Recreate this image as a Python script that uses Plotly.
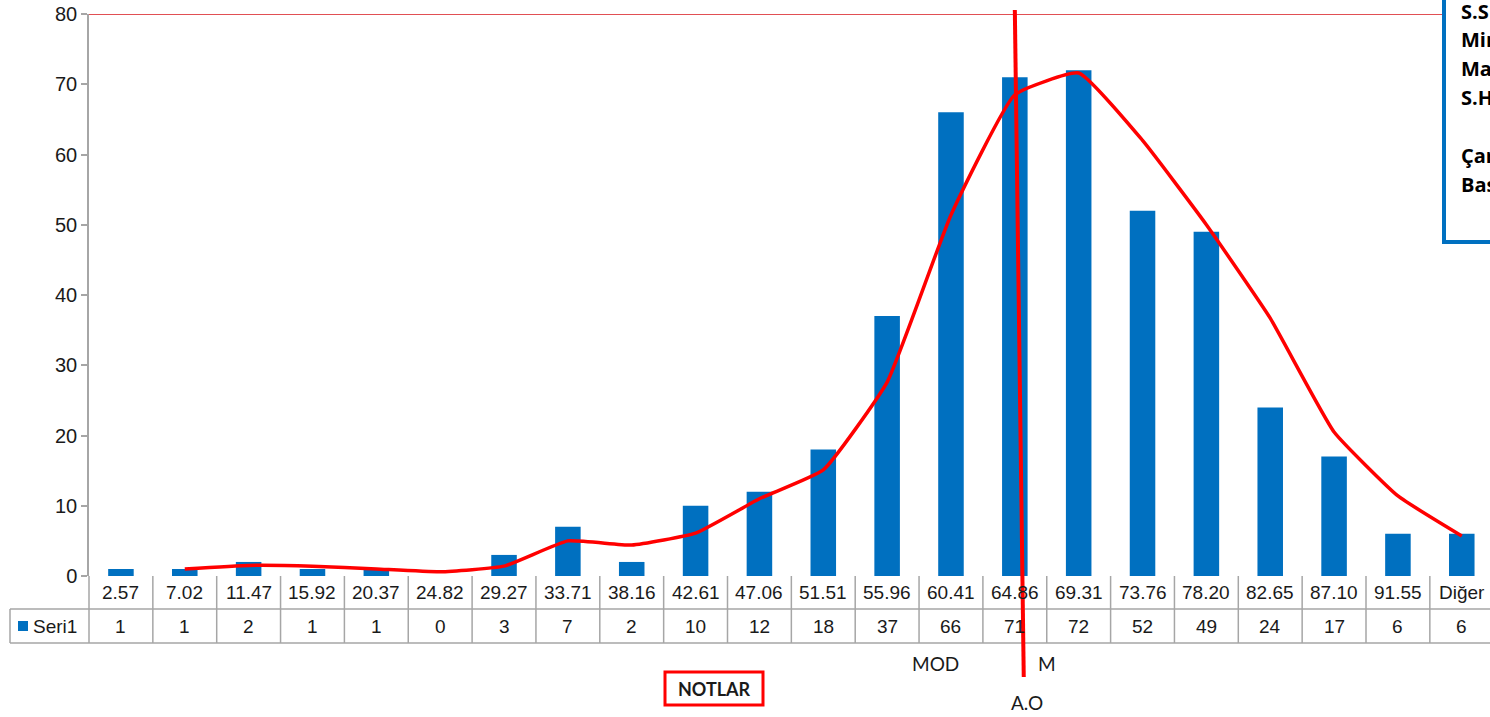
import plotly.graph_objects as go

# ---------------- data ----------------
categories = ["2.57", "7.02", "11.47", "15.92", "20.37", "24.82", "29.27", "33.71",
              "38.16", "42.61", "47.06", "51.51", "55.96", "60.41", "64.86", "69.31",
              "73.76", "78.20", "82.65", "87.10", "91.55", "Diğer"]
counts = [1, 1, 2, 1, 1, 0, 3, 7, 2, 10, 12, 18, 37, 66, 71, 72, 52, 49, 24, 17, 6, 6]
# smooth (normal-like) curve, starts at second category
curve_values = [None, 1.0, 1.5, 1.4, 1.0, 0.6, 1.4, 5.0, 4.4, 6.1, 11.0, 15.1, 27.6,
                51.4, 68.5, 71.6, 62.0, 50.0, 36.7, 20.5, 11.4, 5.7]
series_name = "Seri1"
y_ticks = [0, 10, 20, 30, 40, 50, 60, 70, 80]
limit_value = 80
mean_category = 14  # position of the "A.O" line (64.86 bin)
stats_labels = ["S.S", "Min", "Max", "S.H", "", "Çarpıklık", "Basıklık"]

# ---------------- layout geometry ----------------
W, H = 1490, 717
L, T = 89, 14
PLOT_W = W - L
PLOT_H = 576 - T
B = H - 576
CAT_W = 63.85
x_range = [-0.5, -0.5 + PLOT_W / CAT_W]

def px(x):
    return (x - L) / PLOT_W

def py(y):
    return (576 - y) / PLOT_H

idx = list(range(len(categories)))
BLUE = "#0070C0"
GRID = "#A6A6A6"
TXT = "#1a1a1a"
TFONT = "Liberation Sans, Arial"

fig = go.Figure()
fig.add_trace(go.Bar(x=idx, y=counts, marker=dict(color=BLUE, line=dict(width=0)),
                     width=0.4, name=series_name, showlegend=False))
fig.add_trace(go.Scatter(x=idx, y=curve_values, mode="lines",
                         line=dict(color="#FF0000", width=3.5, shape="spline", smoothing=0.4),
                         showlegend=False, connectgaps=False))

shapes = []
annotations = []

# horizontal limit line at 80
shapes.append(dict(type="line", xref="paper", yref="y", x0=0, x1=1, y0=limit_value, y1=limit_value,
                   line=dict(color="rgba(222,60,65,0.9)", width=2.2), layer="above"))

# ---- data table ----
row1_y = py(609)
row2_y = py(643)
shapes.append(dict(type="line", xref="paper", yref="paper", x0=0, x1=1.01, y0=row1_y, y1=row1_y,
                   line=dict(color=GRID, width=1.5)))
shapes.append(dict(type="line", xref="paper", yref="paper", x0=px(10), x1=0, y0=row1_y, y1=row1_y,
                   line=dict(color=GRID, width=1.5)))
shapes.append(dict(type="line", xref="paper", yref="paper", x0=px(10), x1=1.01, y0=row2_y, y1=row2_y,
                   line=dict(color=GRID, width=1.5)))
shapes.append(dict(type="line", xref="paper", yref="paper", x0=px(10), x1=px(10), y0=row1_y, y1=row2_y,
                   line=dict(color=GRID, width=1.5)))
shapes.append(dict(type="line", xref="paper", yref="paper", x0=0, x1=0, y0=0, y1=row2_y,
                   line=dict(color=GRID, width=1.5)))
for i in idx[1:]:
    shapes.append(dict(type="line", xref="x", yref="paper", x0=i - 0.5, x1=i - 0.5,
                       y0=0, y1=row2_y, line=dict(color=GRID, width=1.5)))
for i, (c, v) in enumerate(zip(categories, counts)):
    annotations.append(dict(x=i, y=py(592.5), xref="x", yref="paper", text=c, showarrow=False,
                            font=dict(size=19, color=TXT, family=TFONT),
                            xanchor="center", yanchor="middle"))
    annotations.append(dict(x=i, y=py(626), xref="x", yref="paper", text=str(v), showarrow=False,
                            font=dict(size=19, color=TXT, family=TFONT),
                            xanchor="center", yanchor="middle"))
# legend key in table
shapes.append(dict(type="rect", xref="paper", yref="paper", x0=px(18), x1=px(28), y0=py(631), y1=py(621),
                   fillcolor=BLUE, line=dict(width=0)))
annotations.append(dict(x=px(31), y=py(626), xref="paper", yref="paper", text=series_name,
                        showarrow=False, xanchor="left", yanchor="middle",
                        font=dict(size=19, color=TXT, family=TFONT)))

# ---- mean (A.O) vertical line ----
shapes.append(dict(type="line", xref="x", yref="paper", x0=mean_category, x1=mean_category + 0.14,
                   y0=py(10), y1=py(677), line=dict(color="#FF0000", width=4), layer="above"))

# labels below table
lab_font = dict(size=19, color=TXT, family="Lato, Open Sans")
annotations.append(dict(x=px(935), y=py(663), xref="paper", yref="paper", text="MOD", showarrow=False,
                        font=lab_font, xanchor="center", yanchor="middle"))
annotations.append(dict(x=px(1047), y=py(663), xref="paper", yref="paper", text="M", showarrow=False,
                        font=lab_font, xanchor="center", yanchor="middle"))
annotations.append(dict(x=px(1027), y=py(702), xref="paper", yref="paper", text="A.O", showarrow=False,
                        font=lab_font, xanchor="center", yanchor="middle"))
# NOTLAR box
shapes.append(dict(type="rect", xref="paper", yref="paper", x0=px(665), x1=px(763), y0=py(705), y1=py(672),
                   line=dict(color="#FF0000", width=3), fillcolor="white"))
annotations.append(dict(x=px(714), y=py(689), xref="paper", yref="paper", text="<b>NOTLAR</b>",
                        showarrow=False, font=dict(size=18, color=TXT, family="Lato, Open Sans"),
                        xanchor="center", yanchor="middle"))

# ---- stats box (right, cut off) ----
shapes.append(dict(type="rect", xref="paper", yref="paper", x0=px(1444), x1=px(1560),
                   y0=py(242), y1=py(-20), line=dict(color=BLUE, width=4), fillcolor="white",
                   layer="above"))
stat_y = [12, 40, 68, 97, 126, 155, 184]
for lab, yy in zip(stats_labels, stat_y):
    if lab:
        annotations.append(dict(x=px(1459), y=py(yy), xref="paper", yref="paper",
                                text="<b>" + lab + "</b>", showarrow=False,
                                xanchor="left", yanchor="middle",
                                font=dict(size=20, color="#000000", family="Open Sans")))

fig.update_layout(
    width=W, height=H,
    margin=dict(l=L, r=0, t=T, b=B),
    paper_bgcolor="white", plot_bgcolor="white",
    shapes=shapes, annotations=annotations,
    bargap=0.6,
    xaxis=dict(range=x_range, showticklabels=False, showgrid=False, zeroline=False,
               showline=False, ticks=""),
    yaxis=dict(range=[0, 80], tickvals=y_ticks, showgrid=False, zeroline=False,
               showline=True, linecolor=GRID, linewidth=1.5, ticks="outside", ticklen=6,
               tickcolor=GRID, tickwidth=1.5,
               tickfont=dict(size=20, color=TXT, family=TFONT)),
    showlegend=False,
)

fig.write_html("out.html", config={"displayModeBar": False},
               post_script="document.body.style.margin='0';document.body.style.overflow='hidden';")
